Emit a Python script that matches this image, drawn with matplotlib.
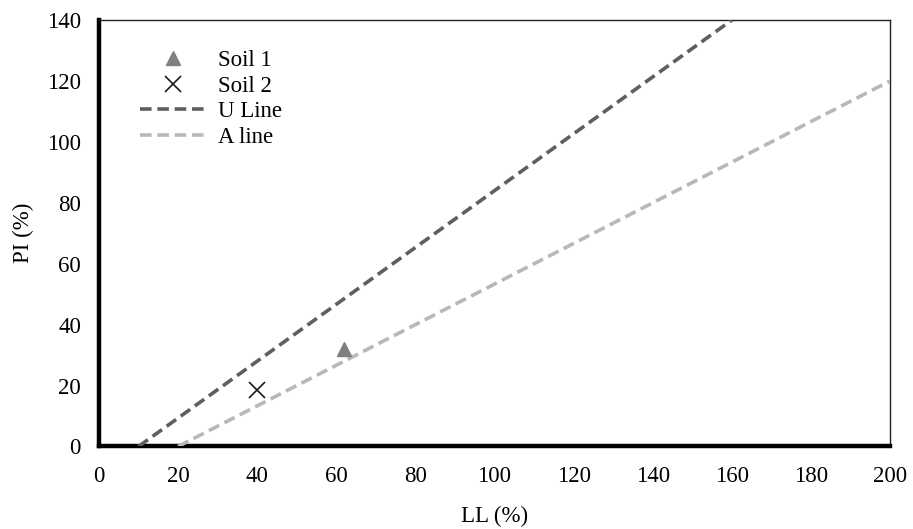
import matplotlib
matplotlib.use("Agg")
import matplotlib.pyplot as plt

plt.rcParams['font.family'] = ['Liberation Serif', 'DejaVu Serif']

# data
soil1_ll = [62]
soil1_pi = [32]
soil2_ll = [40]
soil2_pi = [18.5]
u_line_ll = [10, 160]
u_line_pi = [0, 140]
a_line_ll = [20, 200]
a_line_pi = [0, 120]

fig = plt.figure(figsize=(9.13, 5.29), dpi=100)
ax = fig.add_axes([0.1084, 0.156, 0.8664, 0.806])

ax.plot(soil1_ll, soil1_pi, linestyle='none', marker='^', markersize=10,
        color='#808080', label='Soil 1', zorder=4)
ax.plot(soil2_ll, soil2_pi, linestyle='none', marker='x', markersize=11,
        markeredgewidth=1.2, color='#1a1a1a', label='Soil 2', zorder=4)
ax.plot(u_line_ll, u_line_pi, color='#5f5f5f', linewidth=2.6,
        dashes=(3.2, 1.6), label='U Line', zorder=3)
ax.plot(a_line_ll, a_line_pi, color='#b8b8b8', linewidth=2.6,
        dashes=(3.2, 1.6), label='A line', zorder=3)

ax.set_xlim(0, 200)
ax.set_ylim(0, 140)
ax.set_xticks(range(0, 201, 20))
ax.set_yticks(range(0, 141, 20))
ax.tick_params(axis='y', length=0, labelsize=16.5, pad=13)
ax.tick_params(axis='x', length=0, labelsize=16.5, pad=14)

for side in ['left', 'bottom']:
    ax.spines[side].set_linewidth(3.2)
    ax.spines[side].set_color('black')
for side in ['top', 'right']:
    ax.spines[side].set_linewidth(1.0)
    ax.spines[side].set_color('#222222')

ax.set_xlabel('LL (%)', fontsize=16.5, labelpad=14)
ax.set_ylabel('PI (%)', fontsize=16.5, labelpad=9)

ax.legend(loc='upper left', bbox_to_anchor=(0.052, 0.93), frameon=False,
          fontsize=16.5, handlelength=2.85, handletextpad=0.55,
          labelspacing=0.2, borderaxespad=0, borderpad=0)

fig.savefig('out.png', dpi=100)
